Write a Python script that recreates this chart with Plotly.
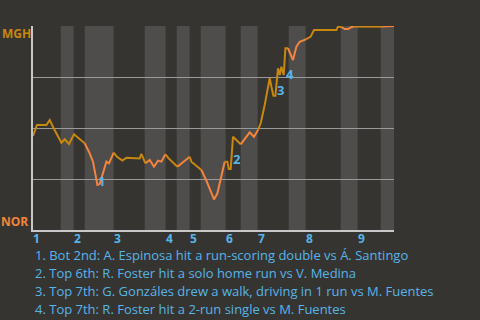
import plotly.graph_objects as go

# ---- data (x = game progress units, p = MGH win probability) ----
x_pa = [0, 4, 13.4, 16.7, 20.7, 28.4, 31.7, 36, 41, 50, 51.7, 56.7, 60, 62.7, 64.4, 66.7,
        70, 73.4, 76, 80.7, 84, 89.4, 93.4, 106.7, 108.4, 112.4, 116.7, 121, 125, 128.4,
        132.4, 135.7, 144.4, 156.7, 158.4, 168.4, 173.4, 181, 184.4, 191.7, 194.4, 195.7,
        197.7, 200, 207.7, 216.7, 221, 225, 227.7, 231.7, 236.7, 238.4, 240.4, 242.4, 245,
        246.7, 248.4, 250.7, 252.4, 255, 260, 263.4, 266.7, 273.4, 277.7, 281, 303.4, 305,
        308.4, 311.7, 315, 318.4, 321.7, 348.4, 360.7, 361]
p_mgh = [0.461, 0.515, 0.515, 0.539, 0.499, 0.428, 0.445, 0.422, 0.469, 0.433, 0.425, 0.376,
         0.335, 0.261, 0.221, 0.225, 0.286, 0.335, 0.327, 0.379, 0.359, 0.340, 0.354, 0.351,
         0.373, 0.327, 0.343, 0.310, 0.340, 0.335, 0.371, 0.351, 0.310, 0.359, 0.335, 0.294,
         0.242, 0.150, 0.180, 0.335, 0.335, 0.299, 0.299, 0.457, 0.420, 0.479, 0.457, 0.490,
         0.523, 0.613, 0.744, 0.702, 0.658, 0.658, 0.793, 0.760, 0.800, 0.760, 0.891, 0.891,
         0.833, 0.899, 0.923, 0.936, 0.948, 0.980, 0.980, 0.997, 0.995, 0.985, 0.985, 0.995,
         0.997, 0.997, 0.997, 1.0]

half_starts = [0, 27.7, 40.7, 51.7, 80.7, 111.7, 132.7, 143.7, 156.7, 167.7, 192.7, 207.7,
               224.7, 255.7, 272.7, 307.7, 324.7, 347.7]
game_end = 361
inning_labels = ['1', '2', '3', '4', '5', '6', '7', '8', '9']

teams = ['MGH', 'NOR']
events = [
    "1. Bot 2nd: A. Espinosa hit a run-scoring double vs Á. Santingo",
    "2. Top 6th: R. Foster hit a solo home run vs V. Medina",
    "3. Top 7th: G. Gonzáles drew a walk, driving in 1 run vs M. Fuentes",
    "4. Top 7th: R. Foster hit a 2-run single vs M. Fuentes",
]
event_point = [14, 42, 53, 57]

# ---- styles ----
BG = '#363430'
BAND = '#4e4d4b'
GOLD = '#c8880e'
ORANGE = '#f5843c'
BLUE = '#56b4e9'
FONT = 'Open Sans'


def half_of(xv):
    k = 0
    for i, s in enumerate(half_starts):
        if xv >= s:
            k = i
    return k


def seg_color(i):
    mid = (x_pa[i] + x_pa[i + 1]) / 2
    k = half_of(mid)
    bottom = k % 2 == 1
    inning = k // 2 + 1
    return ORANGE if (bottom and inning > 1) else GOLD


fig = go.Figure()

runs = []
cur_c = seg_color(0)
start = 0
for i in range(1, len(x_pa) - 1):
    c = seg_color(i)
    if c != cur_c:
        runs.append((start, i, cur_c))
        start = i
        cur_c = c
runs.append((start, len(x_pa) - 1, cur_c))

for s, e, c in runs:
    fig.add_trace(go.Scatter(x=x_pa[s:e + 1], y=p_mgh[s:e + 1], mode='lines',
                             line=dict(color=c, width=2), hoverinfo='skip',
                             showlegend=False))

shapes = []
bounds = half_starts + [game_end]
for k in range(len(half_starts)):
    if k % 2 == 1:
        shapes.append(dict(type='rect', xref='x', yref='paper', x0=bounds[k], x1=bounds[k + 1],
                           y0=0, y1=1, fillcolor=BAND, line=dict(width=0), layer='below'))

annotations = []
for k, lab in enumerate(inning_labels):
    annotations.append(dict(x=half_starts[2 * k], y=0, xref='x', yref='paper', text=f'<b>{lab}</b>',
                            showarrow=False, xanchor='left', yanchor='middle', xshift=-1, yshift=-8.5,
                            borderpad=0, font=dict(family=FONT, size=12, color=BLUE)))
annotations.append(dict(x=0, y=1, xref='paper', yref='paper', text=f'<b>{teams[0]}</b>',
                        showarrow=False, xanchor='right', yanchor='middle', xshift=-1, yshift=-7,
                        borderpad=0, font=dict(family=FONT, size=12, color=GOLD)))
annotations.append(dict(x=0, y=0, xref='paper', yref='paper', text=f'<b>{teams[1]}</b>',
                        showarrow=False, xanchor='right', yanchor='middle', xshift=-4, yshift=9,
                        borderpad=0, font=dict(family=FONT, size=12, color=ORANGE)))
shifts = [(4, 4), (6, 10), (5, 6), (6, 1)]
for n, (idx, (dx, dy)) in enumerate(zip(event_point, shifts)):
    annotations.append(dict(x=x_pa[idx], y=p_mgh[idx], xref='x', yref='y', text=f'<b>{n + 1}</b>',
                            showarrow=False, xanchor='center', yanchor='middle', xshift=dx, yshift=dy,
                            borderpad=0, font=dict(family=FONT, size=13, color=BLUE)))
for n, t in enumerate(events):
    annotations.append(dict(x=0, y=0, xref='paper', yref='paper', text=t, showarrow=False,
                            xanchor='left', yanchor='middle', xshift=1, yshift=-(25 + 17.9 * n),
                            borderpad=0, font=dict(family=FONT, size=13, color=BLUE)))

fig.update_layout(
    width=480, height=320,
    margin=dict(l=33, r=86, t=26, b=90),
    paper_bgcolor=BG, plot_bgcolor=BG,
    shapes=shapes, annotations=annotations,
    xaxis=dict(range=[0, game_end], showgrid=False, zeroline=False, showticklabels=False,
               showline=True, linecolor='#c8c8c8', linewidth=2, ticks=''),
    yaxis=dict(range=[0, 1], tickvals=[0.25, 0.5, 0.75, 1.0], showgrid=True, gridcolor='#9a9a9a',
               gridwidth=1, zeroline=False, showticklabels=False, showline=True,
               linecolor='#c8c8c8', linewidth=1.5, ticks=''),
)

fig.write_html('out.html')
